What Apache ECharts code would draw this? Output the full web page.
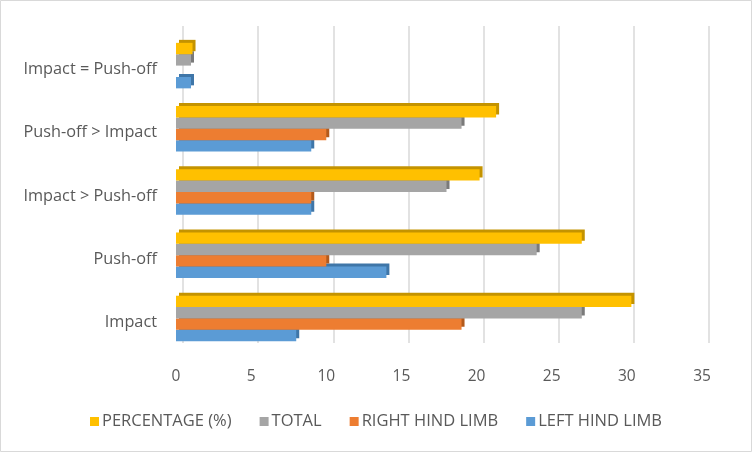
<!DOCTYPE html>
<html>
<head>
<meta charset="utf-8">
<script src="https://cdn.jsdelivr.net/npm/echarts@6/dist/echarts.min.js"></script>
<style>
html,body{margin:0;padding:0;background:#fff;}
#c{width:752px;height:452px;}
</style>
</head>
<body>
<div id="c"></div>
<script>
var categories = ['Impact', 'Push-off', 'Impact > Push-off', 'Push-off > Impact', 'Impact = Push-off'];
var leftHindLimb = [8, 14, 9, 9, 1];
var rightHindLimb = [19, 10, 9, 10, 0];
var total = [27, 24, 18, 19, 1];
var percentage = [30.3, 27.0, 20.2, 21.3, 1.1];
var xTicks = [0, 5, 10, 15, 20, 25, 30, 35];

// listed top-to-bottom inside each category group
var seriesDefs = [
  {name: 'PERCENTAGE (%)', data: percentage, color: '#FFC000', dark: '#C49300', z: 5},
  {name: 'TOTAL', data: total, color: '#A5A5A5', dark: '#7A7A7A', z: 4},
  {name: 'RIGHT HIND LIMB', data: rightHindLimb, color: '#ED7D31', dark: '#B35A1C', z: 3},
  {name: 'LEFT HIND LIMB', data: leftHindLimb, color: '#5B9BD5', dark: '#3F76A8', z: 2}
];

var chart = echarts.init(document.getElementById('c'), null, {renderer: 'canvas'});
var textColor = '#595959';
var font = 'Open Sans';

var option = {
  animation: false,
  backgroundColor: '#ffffff',
  textStyle: {fontFamily: font},
  grid: [
    {left: 176, right: 50, top: 34, bottom: 102},
    {left: 183, right: 43, top: 26, bottom: 109}
  ],
  xAxis: [
    {
      type: 'value', gridIndex: 0, min: xTicks[0], max: xTicks[xTicks.length - 1], interval: 5,
      axisLine: {show: false}, axisTick: {show: false}, splitLine: {show: false},
      axisLabel: {color: textColor, fontSize: 15.5, fontFamily: font, margin: 19}
    },
    {
      type: 'value', gridIndex: 1, min: xTicks[0], max: xTicks[xTicks.length - 1], interval: 5,
      axisLine: {show: false}, axisTick: {show: false}, axisLabel: {show: false},
      splitLine: {show: true, lineStyle: {color: '#D9D9D9', width: 1.5}}
    }
  ],
  yAxis: [
    {
      type: 'category', gridIndex: 0, data: categories,
      axisLine: {show: false}, axisTick: {show: false}, splitLine: {show: false},
      axisLabel: {color: textColor, fontSize: 16.3, fontFamily: font, margin: 19,
                  verticalAlign: 'top', lineHeight: 8}
    },
    {
      type: 'category', gridIndex: 1, data: categories, show: false
    }
  ],
  legend: {
    bottom: 17, left: 'center',
    data: ['PERCENTAGE (%)', 'TOTAL', 'RIGHT HIND LIMB', 'LEFT HIND LIMB'],
    icon: 'rect', itemWidth: 9, itemHeight: 9, itemGap: 28,
    textStyle: {color: textColor, fontSize: 16.5, fontFamily: font, padding: [0, 0, 0, -2]}
  },
  graphic: [{
    type: 'rect', shape: {x: 0.5, y: 0.5, width: 751, height: 451},
    style: {fill: 'none', stroke: '#D9D9D9', lineWidth: 1}, silent: true
  }],
  series: seriesDefs.map(function (s) {
    return {
      name: s.name, type: 'bar', xAxisIndex: 0, yAxisIndex: 0,
      data: s.data, barGap: '0%', barCategoryGap: '28%',
      z: s.z,
      itemStyle: {
        color: s.color,
        shadowColor: s.dark, shadowBlur: 0, shadowOffsetX: 3, shadowOffsetY: -3
      }
    };
  })
};
chart.setOption(option);
</script>
</body>
</html>
